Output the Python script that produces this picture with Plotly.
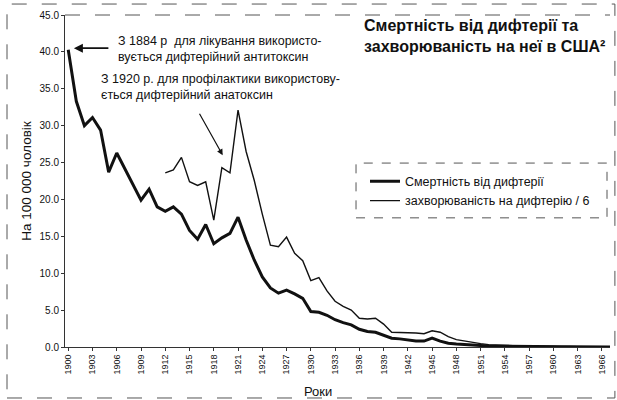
import plotly.graph_objects as go

years_mort = list(range(1900, 1968))
mortality = [40.3, 33.3, 30.0, 31.1, 29.4, 23.7, 26.3, 24.2, 22.1, 19.9,
             21.4, 19.0, 18.4, 19.0, 18.0, 15.8, 14.6, 16.6, 14.0, 14.8,
             15.4, 17.6, 14.5, 11.8, 9.5, 8.0, 7.3, 7.7, 7.2, 6.6,
             4.8, 4.7, 4.3, 3.7, 3.3, 3.0, 2.4, 2.1, 2.0, 1.6,
             1.2, 1.1, 0.9, 0.8, 0.8, 1.2, 0.8, 0.5, 0.4, 0.3,
             0.3, 0.2, 0.12, 0.1, 0.08, 0.06, 0.05, 0.05, 0.03, 0.03,
             0.02, 0.02, 0.02, 0.01, 0.01, 0.01, 0.01, 0.01]

years_inc = list(range(1912, 1968))
incidence6 = [23.6, 24.0, 25.7, 22.4, 21.9, 22.4, 17.2, 24.3, 23.6, 32.1,
              26.5, 22.6, 18.0, 13.8, 13.6, 14.9, 12.7, 11.7, 9.0, 9.4,
              7.6, 6.2, 5.5, 5.0, 3.9, 3.8, 3.9, 3.1, 2.0, 2.0,
              1.9, 1.9, 1.8, 2.2, 2.0, 1.4, 1.0, 0.8, 0.6, 0.45,
              0.32, 0.25, 0.22, 0.18, 0.15, 0.12, 0.08, 0.08, 0.07, 0.05,
              0.04, 0.03, 0.03, 0.02, 0.02, 0.02]

x_ticks = list(range(1900, 1967, 3))
y_ticks = [0, 5, 10, 15, 20, 25, 30, 35, 40, 45]

FONT = "Liberation Sans, Arial, sans-serif"
INK = "#111111"

fig = go.Figure()
fig.add_trace(go.Scatter(x=years_mort, y=mortality, mode="lines",
                         name="Смертність від дифтерії",
                         line=dict(color=INK, width=3)))
fig.add_trace(go.Scatter(x=years_inc, y=incidence6, mode="lines",
                         name="захворюваність на дифтерію / 6",
                         line=dict(color=INK, width=1.4)))

fig.update_layout(
    width=617, height=400,
    margin=dict(l=65, r=7, t=15, b=53),
    paper_bgcolor="white", plot_bgcolor="white",
    font=dict(family=FONT, color=INK),
    showlegend=True,
    legend=dict(x=(365 - 65) / 545, y=0.543, xanchor="left", yanchor="top",
                font=dict(size=12.5, family=FONT, color=INK),
                bgcolor="rgba(0,0,0,0)", tracegroupgap=0, itemwidth=30),
    xaxis=dict(range=[1899.6, 1967.0], tickvals=x_ticks,
               ticktext=[str(v) for v in x_ticks], tickangle=-90,
               tickfont=dict(size=9, family=FONT, color=INK),
               showgrid=False, zeroline=False, showline=True,
               linecolor="#333", linewidth=1, ticks="outside", ticklen=3,
               tickcolor="#333"),
    yaxis=dict(range=[0, 45], tickvals=y_ticks, tickformat=".1f",
               tickfont=dict(size=10, family=FONT, color=INK),
               showgrid=False, zeroline=False, showline=True,
               linecolor="#333", linewidth=1, ticks="outside", ticklen=3,
               tickcolor="#333",
               title=dict(text="На 100 000 чоловік", standoff=4,
                          font=dict(size=13.5, family=FONT, color=INK))),
)

# outer dashed frame and plot top border
fig.add_shape(type="rect", xref="paper", yref="paper",
              x0=-0.1064, x1=1.009, y0=-0.1536, y1=1.033,
              line=dict(color="#555", width=1, dash="longdash"))
fig.add_shape(type="line", xref="paper", yref="paper",
              x0=0, x1=1.0, y0=1.0, y1=1.0,
              line=dict(color="#555", width=1, dash="longdash"))
# legend frame
fig.add_shape(type="rect", xref="paper", yref="paper",
              x0=0.534, x1=0.9945, y0=0.389, y1=0.554,
              line=dict(color="#555", width=1, dash="dash"))

# title
fig.add_annotation(xref="paper", yref="paper", x=0.545, y=0.937,
                   xanchor="left", yanchor="middle", align="left",
                   showarrow=False,
                   text="<b>Смертність від дифтерії та<br>захворюваність на неї в США²</b>",
                   font=dict(size=16, family=FONT, color=INK))

# x axis title
fig.add_annotation(xref="paper", yref="paper", x=0.464, y=-0.1355,
                   xanchor="center", yanchor="middle", showarrow=False,
                   text="Роки", font=dict(size=13, family=FONT, color=INK))

# annotation 1
fig.add_annotation(x=1900.7, y=40.5, xref="x", yref="y", text="",
                   showarrow=True, ax=36, ay=0, arrowhead=2, arrowsize=1,
                   arrowwidth=1.8, arrowcolor=INK)
fig.add_annotation(xref="paper", yref="paper", x=(116 - 65) / 545,
                   y=(347 - 49) / 332, xanchor="left", yanchor="middle",
                   align="left", showarrow=False,
                   text="З 1884 р  для лікування використо-<br>вується дифтерійний антитоксин",
                   font=dict(size=12.5, family=FONT, color=INK))

# annotation 2
fig.add_annotation(x=1919.1, y=26.0, xref="x", yref="y", text="",
                   showarrow=True, ax=-24, ay=-43, arrowhead=2, arrowsize=1,
                   arrowwidth=1.2, arrowcolor=INK)
fig.add_annotation(xref="paper", yref="paper", x=(99 - 65) / 545,
                   y=(347 - 87) / 332, xanchor="left", yanchor="middle",
                   align="left", showarrow=False,
                   text="З 1920 р. для профілактики використову-<br>ється дифтерійний анатоксин",
                   font=dict(size=12.5, family=FONT, color=INK))

fig.write_html("out.html", config={"displayModeBar": False},
               post_script="document.body.style.margin='0';document.body.style.overflow='hidden';")
